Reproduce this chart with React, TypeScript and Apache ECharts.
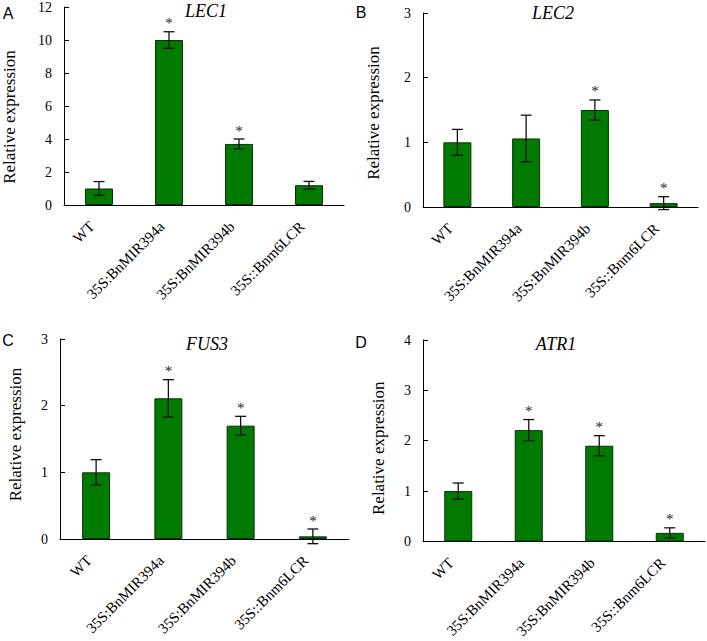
import React, { useEffect, useRef } from "react";
import * as echarts from "echarts";

const categories = ["WT", "35S:BnMIR394a", "35S:BnMIR394b", "35S::Bnm6LCR"];

const lec1Mean = [1.0, 10.0, 3.7, 1.2];
const lec1Err = [0.42, 0.5, 0.3, 0.23];
const lec1Sig = [0, 1, 1, 0];

const lec2Mean = [1.0, 1.06, 1.5, 0.06];
const lec2Err = [0.2, 0.36, 0.155, 0.1];
const lec2Sig = [0, 0, 1, 1];

const fus3Mean = [1.0, 2.11, 1.7, 0.04];
const fus3Err = [0.19, 0.28, 0.14, 0.11];
const fus3Sig = [0, 1, 1, 1];

const atr1Mean = [1.0, 2.21, 1.9, 0.17];
const atr1Err = [0.16, 0.21, 0.2, 0.1];
const atr1Sig = [0, 1, 1, 1];

const panelLetters = ["A", "B", "C", "D"];
const geneNames = ["LEC1", "LEC2", "FUS3", "ATR1"];
const yMax = [12, 3, 3, 4];
const yInterval = [2, 1, 1, 1];
const yName = "Relative expression";

const SERIF = "Liberation Serif";
const SANS = "Liberation Sans";

export default function App() {
  const ref = useRef<HTMLDivElement>(null);
  useEffect(() => {
    if (!ref.current) return;
    const chart = echarts.init(ref.current, undefined, { renderer: "svg" });

    const means = [lec1Mean, lec2Mean, fus3Mean, atr1Mean];
    const errs = [lec1Err, lec2Err, fus3Err, atr1Err];
    const sigs = [lec1Sig, lec2Sig, fus3Sig, atr1Sig];

    const grids = [
      { left: 64, top: 5, width: 280, height: 200 },
      { left: 423, top: 13, width: 275, height: 194 },
      { left: 60, top: 339, width: 289, height: 200 },
      { left: 423, top: 340, width: 282, height: 203 },
    ];
    const titlePos = [
      { left: 206, top: 2 },
      { left: 553, top: 4 },
      { left: 207, top: 335 },
      { left: 556, top: 335 },
    ];
    const letterPos = [
      [8, 13],
      [361, 12],
      [8, 340],
      [361, 342],
    ];
    const nameGaps = [46, 41, 36, 36];
    const namePads = [
      [0, 22, 0, 0],
      [0, 6, 0, 0],
      [0, 0, 0, 9],
      [0, 15, 0, 0],
    ];

    const xAxes = grids.map((_, i) => ({
      type: "category",
      gridIndex: i,
      data: categories,
      boundaryGap: true,
      axisLine: { lineStyle: { color: "#000", width: 1 } },
      axisTick: { inside: true, length: 5, lineStyle: { color: "#000" } },
      axisLabel: {
        rotate: 45,
        interval: 0,
        margin: 12,
        padding: [0, 10, 0, 0],
        color: "#000",
        fontFamily: SERIF,
        fontSize: 15,
      },
    }));
    const yAxes = grids.map((_, i) => ({
      type: "value",
      gridIndex: i,
      min: 0,
      max: yMax[i],
      interval: yInterval[i],
      name: yName,
      nameLocation: "middle",
      nameGap: nameGaps[i],
      nameTextStyle: {
        fontFamily: SERIF,
        fontSize: 17,
        color: "#000",
        padding: namePads[i],
      },
      axisLine: { show: true, lineStyle: { color: "#000", width: 1 } },
      axisTick: { show: true, inside: true, length: 5, lineStyle: { color: "#000" } },
      splitLine: { show: false },
      axisLabel: { color: "#000", fontFamily: SERIF, fontSize: 14, margin: 12 },
    }));

    const series: any[] = [];
    for (let i = 0; i < 4; i++) {
      series.push({
        type: "bar",
        xAxisIndex: i,
        yAxisIndex: i,
        data: means[i],
        barWidth: 28,
        itemStyle: { color: "#007a00", borderColor: "#0d2e0d", borderWidth: 1 },
        z: 2,
      });
      series.push({
        type: "custom",
        xAxisIndex: i,
        yAxisIndex: i,
        z: 5,
        clip: false,
        data: means[i].map((m, k) => [k, m, errs[i][k], sigs[i][k]]),
        renderItem: (params: any, api: any) => {
          const x = api.value(0);
          const m = api.value(1);
          const e = api.value(2);
          const s = api.value(3);
          const top = api.coord([x, m + e]);
          const bot = api.coord([x, m - e]);
          const hw = 5.5;
          const ls = { stroke: "#111", lineWidth: 1.3 };
          const children: any[] = [
            { type: "line", shape: { x1: top[0], y1: top[1], x2: bot[0], y2: bot[1] }, style: ls },
            { type: "line", shape: { x1: top[0] - hw, y1: top[1], x2: top[0] + hw, y2: top[1] }, style: ls },
            { type: "line", shape: { x1: bot[0] - hw, y1: bot[1], x2: bot[0] + hw, y2: bot[1] }, style: ls },
          ];
          if (s) {
            children.push({
              type: "text",
              x: top[0],
              y: top[1] - 1,
              style: {
                text: "*",
                fontFamily: SERIF,
                fontSize: 15,
                fill: "#222",
                align: "center",
                verticalAlign: "bottom",
              },
            });
          }
          return { type: "group", children };
        },
      });
    }

    const graphic: any[] = [];
    for (let i = 0; i < 4; i++) {
      graphic.push({
        type: "text",
        x: letterPos[i][0],
        y: letterPos[i][1],
        style: {
          text: panelLetters[i],
          fontFamily: SANS,
          fontSize: 16,
          fill: "#000",
          align: "center",
          verticalAlign: "middle",
        },
      });
    }

    chart.setOption({
      animation: false,
      backgroundColor: "#fff",
      title: geneNames.map((g, i) => ({
        text: g,
        left: titlePos[i].left,
        top: titlePos[i].top,
        textAlign: "center",
        padding: 0,
        textStyle: {
          fontFamily: SERIF,
          fontStyle: "italic",
          fontWeight: "normal",
          fontSize: 18,
          color: "#000",
        },
      })),
      grid: grids,
      xAxis: xAxes,
      yAxis: yAxes,
      series,
      graphic,
    });
    return () => chart.dispose();
  }, []);
  return (
    <div
      ref={ref}
      style={{ position: "absolute", left: 0, top: 0, width: 707, height: 641, background: "#fff" }}
    />
  );
}
